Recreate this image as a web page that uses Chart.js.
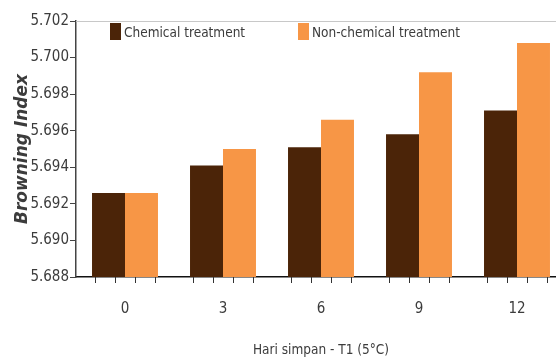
<!DOCTYPE html>
<html>
<head>
<meta charset="utf-8">
<script src="https://cdn.jsdelivr.net/npm/chart.js@4"></script>
<style>
html, body { margin: 0; padding: 0; background: #fff; overflow: hidden; }
#wrap { width: 566px; height: 359px; }
</style>
</head>
<body>
<div id="wrap"><canvas id="chart" width="566" height="359"></canvas></div>
<script>
var days = ['0', '3', '6', '9', '12'];
var chemical = [5.6926, 5.6941, 5.6951, 5.6958, 5.6971];
var nonChemical = [5.6926, 5.6950, 5.6966, 5.6992, 5.7008];
var seriesNames = ['Chemical treatment', 'Non-chemical treatment'];
var seriesColors = ['#4b2408', '#f79646'];

var narrow = "'DejaVu Sans Condensed', 'Liberation Sans Narrow', sans-serif";
var textColor = '#3c3c3c';

// little extra things: top border, minor x ticks, legend inside plot
var extras = {
    id: 'extras',
    afterDraw: function (chart) {
        var c = chart.ctx;
        var a = chart.chartArea;
        var x = chart.scales.x;
        c.save();
        c.strokeStyle = '#c8c8c8';
        c.lineWidth = 1;
        c.beginPath();
        c.moveTo(a.left, a.top + 0.5);
        c.lineTo(a.right, a.top + 0.5);
        c.stroke();

        c.strokeStyle = '#333';
        var w = x.getPixelForValue(1) - x.getPixelForValue(0);
        days.forEach(function (_, i) {
            var cx = x.getPixelForValue(i);
            [-0.306, -0.102, 0.102, 0.306].forEach(function (f) {
                var px = Math.round(cx + f * w) + 0.5;
                c.beginPath();
                c.moveTo(px, a.bottom);
                c.lineTo(px, a.bottom + 6);
                c.stroke();
            });
        });

        c.font = '13.5px ' + narrow;
        c.textBaseline = 'middle';
        var lx = [a.left + 34, a.left + 222];
        chart.data.datasets.forEach(function (ds, i) {
            c.fillStyle = ds.backgroundColor;
            c.fillRect(lx[i], a.top + 2, 11, 17);
            c.fillStyle = textColor;
            c.fillText(ds.label, lx[i] + 14, a.top + 12);
        });
        c.restore();
    }
};

var ctx = document.getElementById('chart').getContext('2d');
var chart = new Chart(ctx, {
    type: 'bar',
    data: {
        labels: days,
        datasets: [{
            label: seriesNames[0],
            data: chemical,
            backgroundColor: seriesColors[0]
        }, {
            label: seriesNames[1],
            data: nonChemical,
            backgroundColor: seriesColors[1]
        }]
    },
    options: {
        responsive: false,
        animation: false,
        categoryPercentage: 0.673,
        barPercentage: 1,
        layout: { padding: { top: 21, right: 0, left: 0, bottom: 0 } },
        plugins: {
            legend: { display: false },
            tooltip: { enabled: false }
        },
        scales: {
            x: {
                grid: { display: false, drawTicks: false },
                border: { color: '#111', width: 1.5 },
                ticks: { color: textColor, font: { family: narrow, size: 15 }, padding: 23 },
                title: {
                    display: true,
                    text: 'Hari simpan - T1 (5°C)',
                    color: textColor,
                    font: { family: narrow, size: 13.5 },
                    padding: { top: 14, bottom: 0 }
                },
                afterFit: function (s) { s.height = 82; }
            },
            y: {
                min: 5.688,
                max: 5.702,
                ticks: {
                    stepSize: 0.002,
                    color: textColor,
                    font: { family: narrow, size: 15 },
                    padding: 1,
                    callback: function (v) { return v.toFixed(3); }
                },
                grid: { drawOnChartArea: false, tickLength: 6, color: '#444' },
                border: { color: '#444', width: 1.5 },
                title: {
                    display: true,
                    text: 'Browning Index',
                    color: textColor,
                    font: { family: "'DejaVu Sans', sans-serif", size: 17, weight: 'bold', style: 'italic' },
                    padding: { top: 12, bottom: 0 }
                },
                afterFit: function (s) { s.width = 76; }
            }
        }
    },
    plugins: [extras]
});
</script>
</body>
</html>
